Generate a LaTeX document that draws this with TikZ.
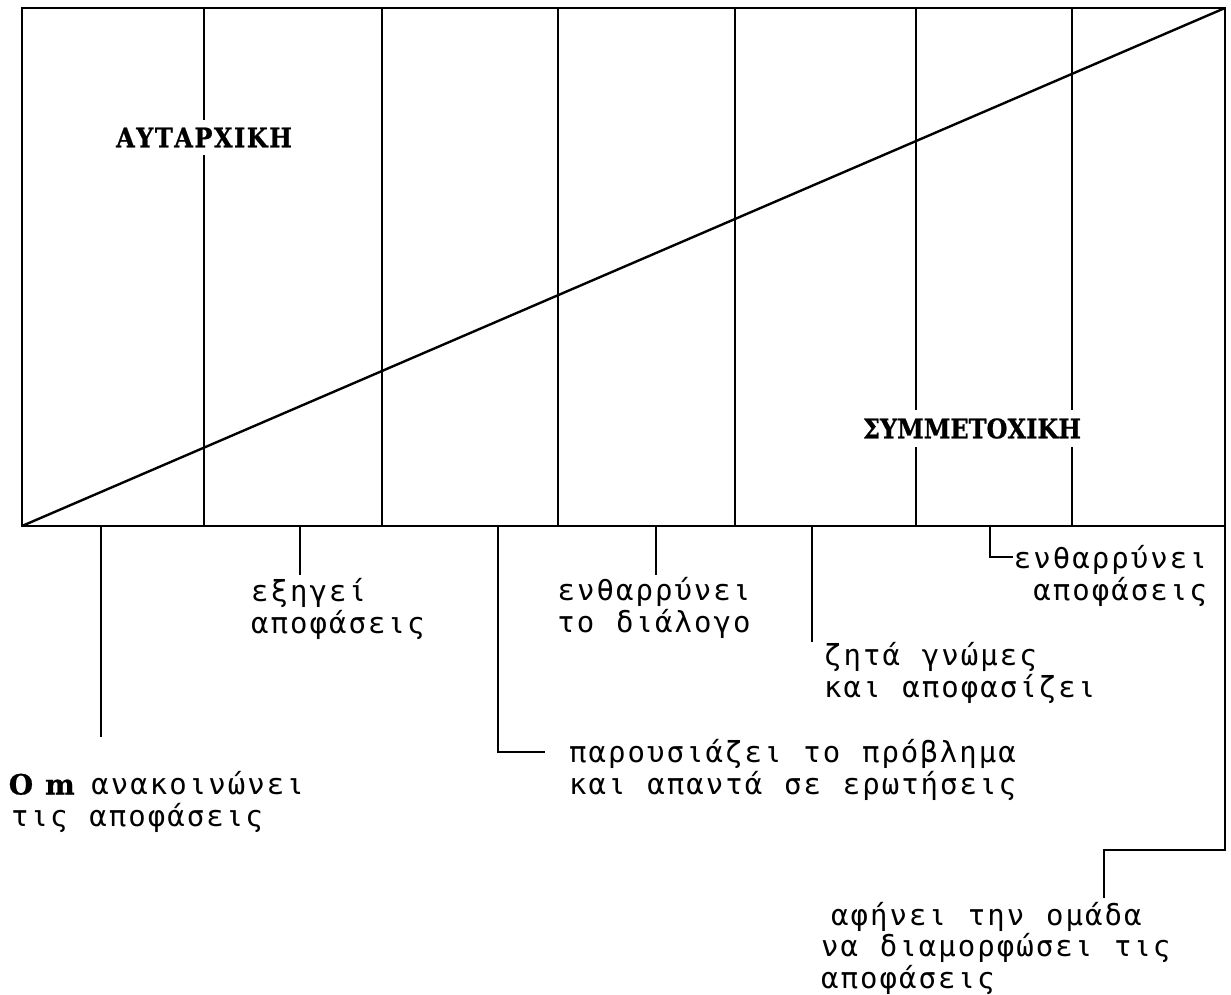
\documentclass[tikz,border=0pt]{standalone}
\usepackage{fontspec}
% label face: spaced-out monospace; heading face: heavy slab serif
\newfontfamily\lblfont[LetterSpace=7,WordSpace={1.117,0,0}]{DejaVu Sans Mono}
\newfontfamily\hdrfont[FakeStretch=0.89,FakeBold=0.8]{DejaVu Serif}
\newfontfamily\hdrwide[FakeStretch=0.89,FakeBold=0.8,LetterSpace=5.5]{DejaVu Serif}
\newfontfamily\initfont[FakeBold=0.8]{DejaVu Serif}
\newcommand\cell[1]{\makebox[9.75pt][c]{#1}}
\begin{document}
\begin{tikzpicture}[x=0.5pt,y=-0.5pt,line width=1.2pt,
  hdr/.style={font=\bfseries\fontsize{13.5}{15}\selectfont, fill=white, inner xsep=2pt, inner ysep=4pt},
  lbl/.style={font=\lblfont\fontsize{14.5}{15.75}\selectfont, inner sep=0pt},
  lead/.style={line width=1.2pt}]
\useasboundingbox (0,0) rectangle (1231,995);

% frame and diagonal
\coordinate (bl) at (22,526);
\coordinate (tr) at (1225,8);
\draw (22,8) rectangle (1225,526);
\draw (bl) -- (tr);

% vertical divisions
\foreach \x in {204,382,558,735,916,1072}
  \draw (\x,8) -- (\x,526);

% headings
\node[hdr] (autocratic) at (204,137.5) {\hdrwide ΑΥΤΑΡΧΙΚΗ};
\node[hdr] (participative) at (972,428.5) {\hdrfont ΣΥΜΜΕΤΟΧΙΚΗ};

% leader lines
\coordinate (s1) at (101,526);  \coordinate (e1) at (101,737);
\coordinate (s2) at (300,526);  \coordinate (e2) at (300,575);
\coordinate (s3) at (656,526);  \coordinate (e3) at (656,575);
\coordinate (s4) at (498,526);  \coordinate (e4) at (545,752);
\coordinate (s5) at (812,526);  \coordinate (e5) at (812,642);
\coordinate (s6) at (990,526);  \coordinate (e6) at (1013,557);
\coordinate (s7) at (1225,526); \coordinate (k7) at (1104,850); \coordinate (e7) at (1104,898);
\draw[lead] (s1) -- (e1);
\draw[lead] (s2) -- (e2);
\draw[lead] (s3) -- (e3);
\draw[lead] (s4) |- (e4);
\draw[lead] (s5) -- (e5);
\draw[lead] (s6) |- (e6);
\draw[lead] (s7) |- (k7) -- (e7);

% labels (placed by the baseline of their last line)
\node[lbl, anchor=base west, align=left] (l1) at (10,826)
  {{\initfont\bfseries\fontsize{14}{15.75}\selectfont\cell{O}\cell{}\cell{m}} ανακοινώνει\\τις αποφάσεις};
\node[lbl, anchor=base west, align=left] (l2) at (250,633)
  {εξηγεί\\αποφάσεις};
\node[lbl, anchor=base, align=center] (l3) at (654,632)
  {ενθαρρύνει\\το διάλογο};
\node[lbl, anchor=base west, align=left] (l4) at (568,794)
  {παρουσιάζει το πρόβλημα\\και απαντά σε ερωτήσεις};
\node[lbl, anchor=base west, align=left] (l5) at (823,697)
  {ζητά γνώμες\\και αποφασίζει};
\node[lbl, anchor=base east, align=right] (l6) at (1208,600)
  {ενθαρρύνει\\αποφάσεις};
\node[lbl, anchor=base west, align=left] (l7) at (820,988)
  {\hspace{5pt}αφήνει την ομάδα\\να διαμορφώσει τις\\αποφάσεις};
\end{tikzpicture}
\end{document}
